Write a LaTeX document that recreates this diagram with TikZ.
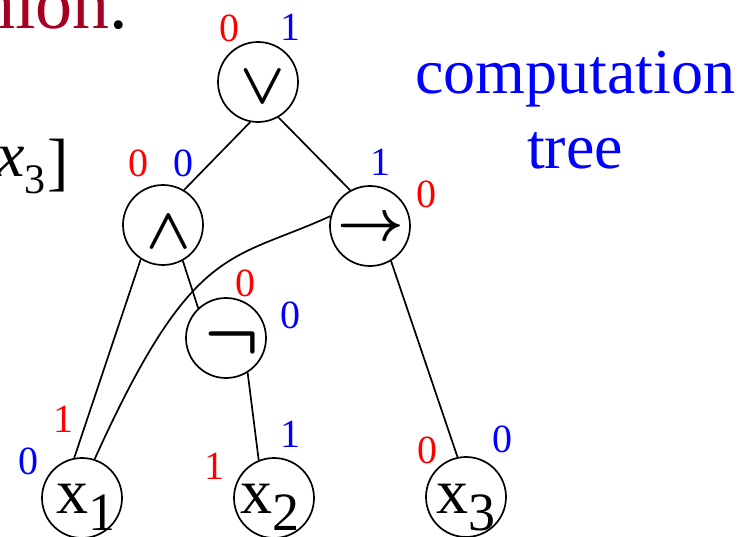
\RequirePackage{fix-cm}
\documentclass[tikz,border=0pt]{standalone}
\usepackage{fontspec}
\setmainfont{Liberation Serif}
\definecolor{dred}{RGB}{165,0,33}
\definecolor{lred}{RGB}{255,0,0}
\definecolor{lblue}{RGB}{0,0,255}
\begin{document}
\begin{tikzpicture}[x=1pt,y=-1pt,
  gate/.style={circle,draw,minimum size=80pt,inner sep=0pt,line width=1.7pt},
  sym/.style={inner sep=0pt,font=\fontsize{58}{64}\selectfont\boldmath},
  varlab/.style={inner sep=0pt,anchor=base,font=\fontsize{64}{70}\selectfont},
  rlab/.style={inner sep=0pt,text=lred,font=\fontsize{40}{46}\selectfont},
  blab/.style={inner sep=0pt,text=lblue,font=\fontsize{40}{46}\selectfont},
  edge/.style={line width=1.7pt},
  bigtext/.style={inner sep=0pt,anchor=base,text=lblue,font=\fontsize{64}{70}\selectfont}]
\useasboundingbox (0,0) rectangle (747,536);
\clip (0,0) rectangle (747,536);
% header texts
\node[inner sep=0pt,anchor=base west,text=dred,font=\fontsize{74}{80}\selectfont] (hion) at (-22,28) {hion{\color{black}.}};
\node[inner sep=0pt,anchor=base west,font=\fontsize{64}{70}\selectfont] (xthree) at (-4,176) {\textit{x}\raisebox{-17pt}{\fontsize{42}{46}\selectfont 3}\hspace{2pt}\raisebox{-7pt}{]}};
\node[bigtext] (comp) at (575,93) {computation};
\node[bigtext] (tree) at (575,168) {tree};
% gates
\node[gate] (or) at (258,82) {};
\node[gate] (and) at (163,225) {};
\node[gate] (imp) at (370,226) {};
\node[gate] (neg) at (226,338) {};
\node[gate] (x1) at (82,498) {};
\node[gate] (x2) at (274,498) {};
\node[gate] (x3) at (466,497) {};
% symbols
\node[sym] (sor) at (263,87) {$\vee$};
\node[sym] (sand) at (169,232) {$\wedge$};
\node[sym] (simp) at (371,229) {$\rightarrow$};
\node[sym,font=\fontsize{72}{78}\selectfont\boldmath] (sneg) at (232,342) {$\neg$};
\node[varlab] (tx1) at (86,513) {x\raisebox{-17pt}{\fontsize{54}{60}\selectfont 1}};
\node[varlab] (tx2) at (270,513) {x\raisebox{-17pt}{\fontsize{54}{60}\selectfont 2}};
\node[varlab] (tx3) at (466,513) {x\raisebox{-17pt}{\fontsize{54}{60}\selectfont 3}};
% edges
\draw[edge] (or.259) -- (and.59);
\draw[edge] (or.300) -- (imp.119);
\draw[edge] (and.237) -- (x1.101);
\draw[edge] (and.299) -- (neg.133);
\draw[edge] (neg.302) -- (x2.112);
\draw[edge] (imp.301) -- (x3.102);
\draw[edge] (x1.72) .. controls (193,242) and (230,262) .. (imp.166);
% values
\node[rlab] (or0) at (229,28) {0};
\node[blab] (or1) at (290,27) {1};
\node[rlab] (and0r) at (138,163) {0};
\node[blab] (and0b) at (183,163) {0};
\node[blab] (imp1) at (380,162) {1};
\node[rlab] (imp0) at (426,194) {0};
\node[rlab] (neg0r) at (245,283) {0};
\node[blab] (neg0b) at (290,315) {0};
\node[rlab] (x1r) at (63,419) {1};
\node[blab] (x1b) at (28,461) {0};
\node[rlab] (x2r) at (214,466) {1};
\node[blab] (x2b) at (290,434) {1};
\node[rlab] (x3r) at (427,450) {0};
\node[blab] (x3b) at (502,439) {0};
\end{tikzpicture}
\end{document}
